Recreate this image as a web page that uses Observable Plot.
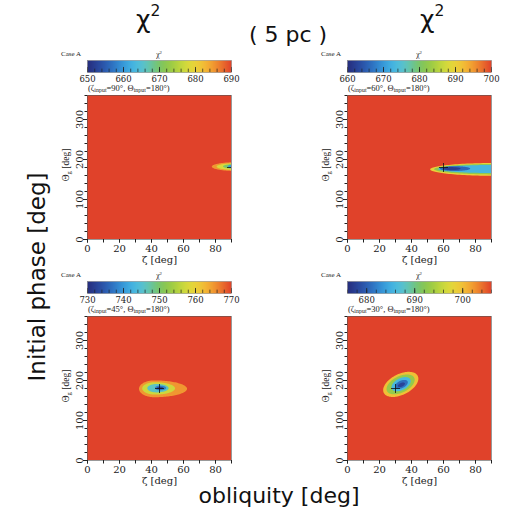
<!DOCTYPE html>
<html><head><meta charset="utf-8">
<script src="https://cdn.jsdelivr.net/npm/d3@7"></script>
<script src="https://cdn.jsdelivr.net/npm/@observablehq/plot@0.6"></script>
<style>
html,body{margin:0;padding:0;background:#fff;}
#root{position:relative;width:508px;height:516px;overflow:hidden;background:#fff;}
.abs{position:absolute;white-space:nowrap;line-height:1;}
.big{font-family:"DejaVu Sans",sans-serif;color:#111;}
.tiny{font-family:"Liberation Serif",serif;color:#222;}
.rot{transform:translate(-50%,-50%) rotate(-90deg);transform-origin:center;}
.ctr{transform:translate(-50%,-50%);}
sub{font-size:70%;vertical-align:-0.25em;line-height:0;}
sup{font-size:62%;vertical-align:0.75em;line-height:0;}
</style></head><body>
<div id="root"></div>
<script>
// ---------------- data ----------------
const panelIds   = ["TL", "TR", "BL", "BR"];
const zetaInput  = [90, 60, 45, 30];
const thetaInput = [180, 180, 180, 180];
const chiLow     = [650, 660, 730, 676];
const chiHigh    = [690, 700, 770, 706];
const chiTicks   = [[650,660,670,680,690],[660,670,680,690,700],[730,740,750,760,770],[680,690,700]];
const zetaDomain  = [0, 90];
const thetaDomain = [0, 360];
const zetaTicks   = [0, 20, 40, 60, 80];
const zetaMinor   = [0, 10, 20, 30, 40, 50, 60, 70, 80, 90];
const thetaTicks  = [0, 100, 200, 300];
const thetaMinor  = [0,20,40,60,80,100,120,140,160,180,200,220,240,260,280,300,320,340,360];
// contour bands (outer first): [chi2 level, centre zeta, centre theta, half-width left, half-width right, half-height, tilt dTheta/dZeta]
const contoursTL = [[685,93,181,15,15,11,0],[678,93,181,12,12,8.5,0],[670,93,181.5,8,8,6,0],[660,93,182,5,5,4,0]];
const contoursTR = [[690,92,174,40,40,16,0],[682,92,174.5,37.5,37.5,13,0],[673,90,175,33,33,10,0],[666,67,176,9,10,6,0],[662,65,176,5,6,3.8,0]];
const contoursBL = [[765,42,178,9.5,20.5,21,0],[757,42.5,179,8,12.5,15.5,0],[746,43.5,179.5,5.8,7.5,10.5,0],[738,45.5,180,3,4,6,0],[733,45.5,180,1.8,2.2,3.2,0]];
const contoursBR = [[700,33.6,189,11,11,28,1.3],[693,33.5,189,8.8,8.8,22,1.3],[686,33.8,189.5,6,6,16,1.3],[681,34,189,4,4,10,1.3],[678,34,188,2.2,2.2,5,1.3]];
const contours = [contoursTL, contoursTR, contoursBL, contoursBR];

// ---------------- style / layout ----------------
const rainbowStops = ["#262d7c","#2a4fa8","#2f7fcb","#3fb4e8","#5cc6d2","#79c35a","#a3cd3f","#dfe03b","#f5c437","#f08a2e","#e0422a"];
const rainbow = d3.interpolateRgbBasis(rainbowStops);
const frames = [{left:87, top:95}, {left:347, top:95}, {left:87, top:316}, {left:347, top:316}];
const FW = 144, FH = 144;

const root = document.getElementById("root");
function addText(html, cls, css) {
  const d = document.createElement("div");
  d.className = "abs " + cls;
  d.innerHTML = html;
  Object.assign(d.style, css);
  root.appendChild(d);
  return d;
}
function place(node, left, top) {
  node.style.position = "absolute";
  node.style.left = left + "px";
  node.style.top = top + "px";
  root.appendChild(node);
}

function bandPoints(rows) {
  const pts = [];
  rows.forEach((r, i) => {
    const [v, cx, cy, rl, rr, ry, s] = r;
    for (let k = 0; k <= 72; k++) {
      const th = Math.PI * (1 - k / 72);
      const c = Math.cos(th);
      const x = cx + c * (c < 0 ? rl : rr);
      const h = ry * Math.sin(th);
      const yc = cy + s * (x - cx);
      pts.push({band: i, v, x, y1: yc - h, y2: yc + h});
    }
  });
  return pts;
}

panelIds.forEach((id, i) => {
  const f = frames[i];
  const color = {type: "linear", domain: [chiLow[i], chiHigh[i]], interpolate: rainbow, clamp: true};

  // ---- colour bar ----
  const cb = Plot.plot({
    width: FW + 20, height: 12 + 14,
    marginLeft: 10, marginRight: 10, marginTop: 0, marginBottom: 14,
    x: {domain: [chiLow[i], chiHigh[i]]},
    y: {domain: [0, 1], axis: null},
    color,
    style: {fontFamily: "DejaVu Serif", fontSize: "8.5px", background: "transparent", color: "#222"},
    marks: [
      Plot.raster({x1: chiLow[i], x2: chiHigh[i], y1: 0, y2: 1, width: FW, height: 1, fill: (x, y) => x, imageRendering: "auto"}),
      Plot.ruleX(d3.range(chiLow[i], chiHigh[i] + 0.01, 2), {y1: 0, y2: 0.28, stroke: "#222", strokeWidth: 0.7}),
      Plot.ruleX(chiTicks[i], {y1: 0, y2: 0.42, stroke: "#222", strokeWidth: 0.8}),
      Plot.frame({stroke: "#777", strokeWidth: 0.5}),
      Plot.axisX({ticks: chiTicks[i], tickSize: 0, tickPadding: 3, label: null})
    ]
  });
  place(cb, f.left - 10, f.top - 35);

  addText("Case A", "tiny", {left: (f.left - 26) + "px", top: (f.top - 44) + "px", fontSize: "7px"});
  addText("χ<sup>2</sup>", "tiny ctr", {left: (f.left + FW / 2) + "px", top: (f.top - 40) + "px", fontSize: "7.5px"});
  addText(`(ζ<sub>input</sub>=${zetaInput[i]}°, Θ<sub>input</sub>=${thetaInput[i]}°)`, "tiny",
          {left: (f.left + 1) + "px", top: (f.top - 11) + "px", fontSize: "8.5px"});

  // ---- map panel ----
  const bg = [{x1: zetaDomain[0], x2: zetaDomain[1], y1: thetaDomain[0], y2: thetaDomain[1], v: chiHigh[i]}];
  const input = [{x: zetaInput[i], y: thetaInput[i]}];
  const p = Plot.plot({
    width: FW + 34, height: FH + 34,
    marginLeft: 30, marginRight: 4, marginTop: 4, marginBottom: 30,
    x: {domain: zetaDomain},
    y: {domain: thetaDomain},
    color,
    style: {fontFamily: "DejaVu Serif", fontSize: "10px", background: "transparent", color: "#222"},
    marks: [
      Plot.rect(bg, {x1: "x1", x2: "x2", y1: "y1", y2: "y2", fill: "v"}),
      Plot.areaY(bandPoints(contours[i]), {x: "x", y1: "y1", y2: "y2", z: "band", fill: "v", clip: true}),
      Plot.dot(input, {x: "x", y: "y", symbol: "plus", r: 3, stroke: "#111", strokeWidth: 0.8, clip: true}),
      Plot.frame({stroke: "#555", strokeWidth: 0.6}),
      Plot.axisX({ticks: zetaMinor, tickSize: 3.5, tickFormat: () => "", label: null}),
      Plot.axisX({ticks: zetaTicks, tickSize: 3.5, tickPadding: 1.5, label: "ζ [deg]", labelAnchor: "center", labelOffset: 23, labelArrow: "none"}),
      Plot.axisY({ticks: thetaMinor, tickSize: 2.5, tickFormat: () => "", label: null}),
      Plot.axisY({ticks: thetaTicks, tickSize: 4, tickPadding: 1, tickRotate: -90, label: null})
    ]
  });
  place(p, f.left - 30, f.top - 4);

  addText("Θ<sub>g</sub> [deg]", "tiny rot", {left: (f.left - 20) + "px", top: (f.top + 70) + "px", fontSize: "9.5px"});
});

// ---------------- figure-level labels ----------------
addText("χ<sup>2</sup>", "big", {left: "136px", top: "7px", fontSize: "25px"});
addText("χ<sup>2</sup>", "big", {left: "420px", top: "7px", fontSize: "25px"});
addText("( 5 pc )", "big ctr", {left: "288px", top: "35px", fontSize: "22px"});
addText("Initial phase [deg]", "big rot", {left: "37px", top: "277px", fontSize: "23px"});
addText("obliquity [deg]", "big ctr", {left: "279px", top: "496px", fontSize: "22px"});
</script>
</body></html>
